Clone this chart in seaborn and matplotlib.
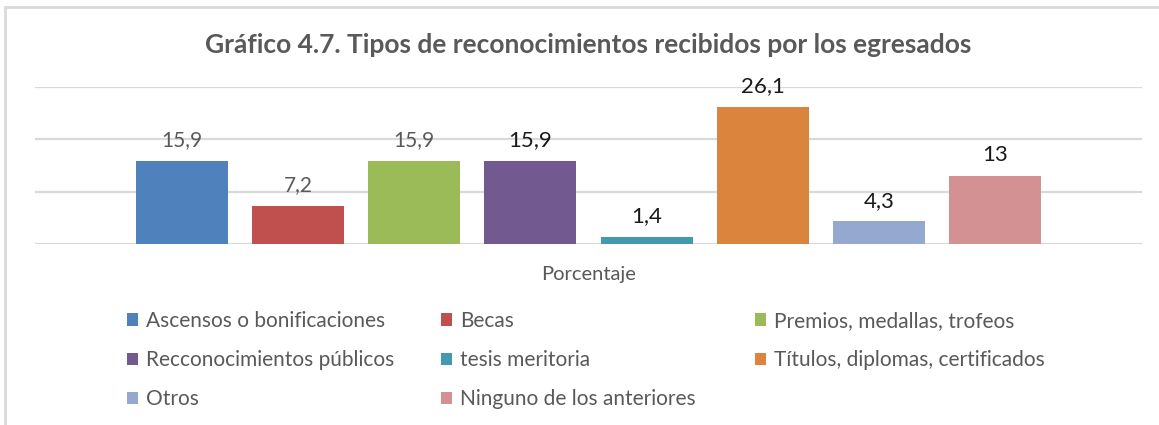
import matplotlib
matplotlib.use("Agg")
import matplotlib.pyplot as plt
from matplotlib.lines import Line2D
from matplotlib.patches import Patch
import seaborn as sns
import pandas as pd

title = "Gráfico 4.7. Tipos de reconocimientos recibidos por los egresados"
category = "Porcentaje"
series = ["Ascensos o bonificaciones", "Becas", "Premios, medallas, trofeos",
          "Recconocimientos públicos", "tesis meritoria", "Títulos, diplomas, certificados",
          "Otros", "Ninguno de los anteriores"]
values = [15.9, 7.2, 15.9, 15.9, 1.4, 26.1, 4.3, 13]
labels = ["15,9", "7,2", "15,9", "15,9", "1,4", "26,1", "4,3", "13"]
colors = ["#4F81BD", "#C0504D", "#9BBB59", "#725990", "#4299B0", "#DB843D", "#95A9D0", "#D39193"]

sns.set_theme(style="white")
plt.rcParams['font.family'] = ['Lato', 'DejaVu Sans']

df = pd.DataFrame({"cat": [category] * len(series), "serie": series, "valor": values})

fig = plt.figure(figsize=(11.59, 4.25), dpi=100)
W, H = 1159, 425
ax = fig.add_axes([35 / W, (H - 244) / H, (1142 - 35) / W, (244 - 87) / H])

sns.barplot(data=df, x="cat", y="valor", hue="serie", hue_order=series,
            palette=colors, width=0.84, gap=0.21, ax=ax, legend=False,
            edgecolor="none", linewidth=0, saturation=1)

ax.set_ylim(0, 30)
ax.set_xlim(-0.5, 0.5)
ax.set_yticks([0, 10, 20, 30])
ax.set_yticklabels([])
ax.yaxis.grid(True, color="#D9D9D9", linewidth=1.6)
ax.set_axisbelow(True)
for s in ax.spines.values():
    s.set_visible(False)
ax.tick_params(axis="both", length=0)
ax.set_xlabel("")
ax.set_ylabel("")
ax.set_xticks([0])
ax.set_xticklabels([category], color="#595959", fontsize=14.5)
ax.tick_params(axis="x", pad=16)

# value labels
bars = [p for p in ax.patches if p.get_height() > 0]
bars.sort(key=lambda p: p.get_x())
for i, (b, lab) in enumerate(zip(bars, labels)):
    col = "#595959" if i < 3 else "#1A1A1A"
    fs = 15 if i < 3 else 16
    ax.annotate(lab, (b.get_x() + b.get_width() / 2, b.get_height()),
                xytext=(0, 15), textcoords="offset points",
                ha="center", va="center", color=col, fontsize=fs,
                annotation_clip=False)

fig.text(588.5 / W, 1 - 45 / H, title, ha="center", va="center",
         fontsize=19, fontweight="bold", color="#595959")

# legends, three columns laid out row by row
handles = [Patch(facecolor=c, edgecolor="none") for c in colors]
col_x = [127, 441, 755]
for c in range(3):
    idx = [i for i in range(c, len(series), 3)]
    leg = fig.legend([handles[i] for i in idx], [series[i] for i in idx],
                     loc="upper left", bbox_to_anchor=(col_x[c] / W, 1 - 311 / H),
                     frameon=False, fontsize=15, handlelength=0.55, handleheight=0.55,
                     handletextpad=0.35, labelspacing=0.92, borderpad=0, borderaxespad=0)
    for t in leg.get_texts():
        t.set_color("#595959")

# chart frame (left and top edges visible)
fig.add_artist(Line2D([5 / W, 5 / W], [0, 1 - 7 / H], transform=fig.transFigure,
                      color="#D9D9D9", linewidth=2))
fig.add_artist(Line2D([5 / W, 1], [1 - 7 / H, 1 - 7 / H], transform=fig.transFigure,
                      color="#D9D9D9", linewidth=2))

fig.savefig("out.png", dpi=100, facecolor="white")
